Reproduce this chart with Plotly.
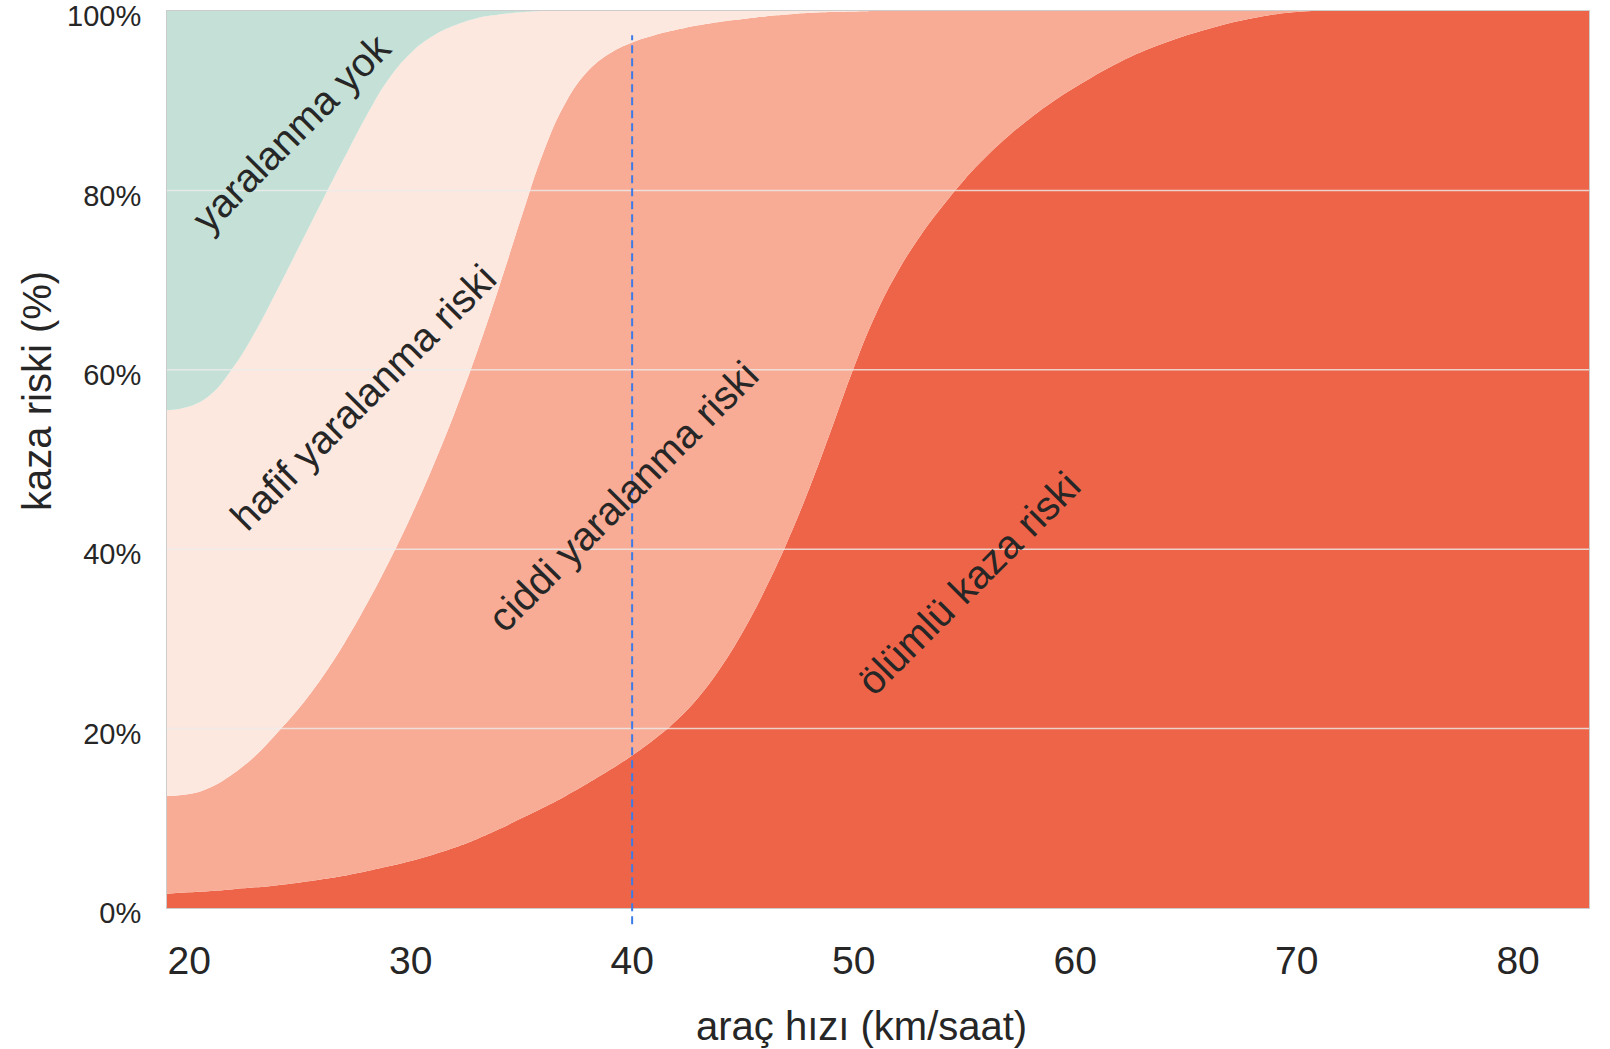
import plotly.graph_objects as go

# araç hızı (km/saat)
speed = [19, 20, 21, 22, 23, 24, 25, 26, 27, 28, 29, 30, 31, 32, 33, 34, 35, 36, 37, 38,
         39, 40, 41, 42, 43, 44, 45, 46, 47, 48, 49, 50, 51, 52, 53, 54, 55, 56, 57, 58,
         59, 60, 62, 64, 66, 68, 70, 72, 76, 80, 83.2]

# cumulative upper boundaries (%)
olumlu_ust = [1.6, 1.75, 1.9, 2.1, 2.3, 2.55, 2.85, 3.2, 3.6, 4.1, 4.65, 5.25, 5.95, 6.75, 7.7, 8.8, 10.0, 11.2, 12.5, 13.9,
              15.4, 17.0, 18.8, 20.9, 23.5, 26.8, 30.8, 35.5, 40.8, 46.8, 53.4, 60.2, 66.2, 71.0, 74.9, 78.2, 81.2, 83.8, 86.1, 88.1,
              89.9, 91.5, 94.3, 96.4, 98.0, 99.2, 99.9, 100, 100, 100, 100]
ciddi_ust = [12.5, 12.7, 13.5, 15.0, 17.0, 19.6, 22.4, 25.7, 29.5, 33.8, 38.5, 43.6, 49.2, 55.3, 62.0, 69.3, 77.0, 84.3, 89.8, 93.3,
             95.3, 96.5, 97.3, 97.9, 98.4, 98.8, 99.1, 99.4, 99.6, 99.8, 99.9, 99.95, 100, 100, 100, 100, 100, 100, 100, 100,
             100, 100, 100, 100, 100, 100, 100, 100, 100, 100, 100]
hafif_ust = [55.5, 55.9, 57.3, 60.3, 64.3, 69.0, 73.9, 78.8, 83.6, 88.3, 92.4, 95.3, 97.2, 98.4, 99.2, 99.6, 99.85, 100, 100, 100,
             100, 100, 100, 100, 100, 100, 100, 100, 100, 100, 100, 100, 100, 100, 100, 100, 100, 100, 100, 100,
             100, 100, 100, 100, 100, 100, 100, 100, 100, 100, 100]
yok_ust = [100] * len(speed)

x_ticks = [20, 30, 40, 50, 60, 70, 80]
y_ticks = [0, 20, 40, 60, 80, 100]

labels = ["yaralanma yok", "hafif yaralanma riski", "ciddi yaralanma riski", "ölümlü kaza riski"]
label_x = [24.6, 27.85, 39.6, 55.2]
label_y = [86.4, 57.0, 45.9, 36.2]

FONT = "Arial, 'Liberation Sans', Helvetica, sans-serif"

fig = go.Figure()
series = [
    (olumlu_ust, "#EE6448", "tozeroy"),
    (ciddi_ust, "#F8AC95", "tonexty"),
    (hafif_ust, "#FCE8DF", "tonexty"),
    (yok_ust, "#C5E1D7", "tonexty"),
]
for ys, col, fill in series:
    fig.add_trace(go.Scatter(
        x=speed, y=ys, mode="lines", fill=fill, fillcolor=col,
        line=dict(width=0, color=col, shape="spline", smoothing=1.2),
        hoverinfo="skip", showlegend=False))

# gridlines drawn above fills
for v in [20, 40, 60, 80]:
    fig.add_shape(type="line", xref="paper", yref="y", x0=0, x1=1, y0=v, y1=v,
                  line=dict(color="rgba(236,236,236,0.8)", width=1.5), layer="above")

# 40 km/saat reference line
fig.add_shape(type="line", xref="x", yref="paper", x0=40, x1=40, y0=-0.018, y1=0.973,
              line=dict(color="#3D7BE8", width=2, dash="8px,5px"), layer="above")

for t, xx, yy in zip(labels, label_x, label_y):
    fig.add_annotation(x=xx, y=yy, xref="x", yref="y", text=t, showarrow=False,
                       textangle=-45, xanchor="center", yanchor="middle",
                       font=dict(family=FONT, size=40, color="#262626"))

fig.add_annotation(x=-0.091, y=0.576, xref="paper", yref="paper", text="kaza riski (%)",
                   showarrow=False, textangle=-90, xanchor="center", yanchor="middle",
                   font=dict(family=FONT, size=40, color="#262626"))
fig.add_annotation(x=0.4886, y=-0.1321, xref="paper", yref="paper", text="araç hızı (km/saat)",
                   showarrow=False, xanchor="center", yanchor="middle",
                   font=dict(family=FONT, size=40, color="#262626"))

fig.update_layout(
    template="none",
    width=1610, height=1049,
    margin=dict(l=167, r=21, t=11, b=141),
    paper_bgcolor="white", plot_bgcolor="white",
    font=dict(family=FONT, color="#262626"),
    xaxis=dict(range=[19, 83.2], tickvals=x_ticks, ticktext=[str(v) for v in x_ticks],
               showgrid=False, zeroline=False, showline=True, linecolor="#cccccc",
               linewidth=1, mirror=True, ticks="", ticklabelstandoff=18, automargin=False,
               tickfont=dict(family=FONT, size=39, color="#262626")),
    yaxis=dict(range=[0, 100], tickvals=y_ticks, ticktext=[f"{v}%" for v in y_ticks],
               showgrid=False, zeroline=False, showline=True, linecolor="#cccccc",
               linewidth=1, mirror=True, ticks="", ticklabelstandoff=19, automargin=False,
               ticklabeloverflow="allow", ticklabelshift=5,
               tickfont=dict(family=FONT, size=29, color="#262626")),
)

fig.write_html("out.html", config={"displayModeBar": False},
               post_script="document.body.style.margin='0';")
